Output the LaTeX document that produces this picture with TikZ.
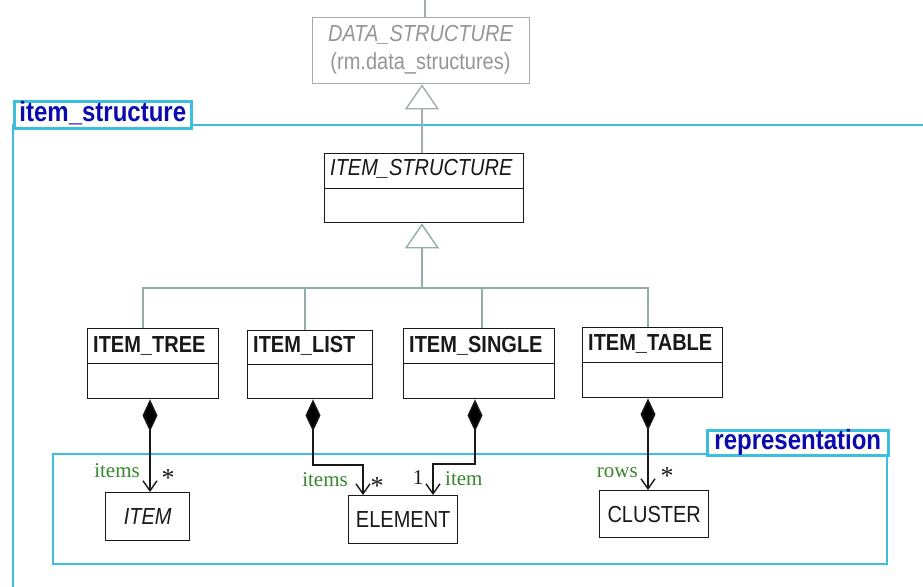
\documentclass[tikz,border=0pt]{standalone}
\usepackage{fontspec}
\setmainfont{Liberation Sans}
\newfontfamily\rolefont{Liberation Serif}
\usetikzlibrary{arrows.meta}
\definecolor{pkgcyan}{RGB}{60,190,225}
\definecolor{pkgblue}{RGB}{10,10,175}
\definecolor{inhgray}{RGB}{150,172,170}
\definecolor{ghost}{RGB}{165,172,172}
\definecolor{ghosttext}{RGB}{150,150,150}
\definecolor{rolegreen}{RGB}{55,135,45}
\definecolor{ink}{RGB}{25,25,25}
\newcommand\vstretch[1]{\scalebox{1}[1.16]{#1}}
\begin{document}
\begin{tikzpicture}[x=1pt,y=-1pt,
  cls/.style={draw=ink, line width=1.4pt, rectangle, inner sep=0pt, anchor=north west, fill=white},
  clsname/.style={anchor=base west, inner sep=0pt, text=ink, font=\fontsize{20}{24}\selectfont\bfseries},
  plain/.style={text=ink, font=\fontsize{20}{24}\selectfont},
  ghostbox/.style={draw=ghost, line width=1.4pt, rectangle, inner sep=0pt, anchor=north west},
  pkgline/.style={draw=pkgcyan, line width=2.6pt},
  pkgtab/.style={draw=pkgcyan, line width=2.6pt, fill=white, rectangle, inner sep=0pt, anchor=north west,
     text=pkgblue, font=\fontsize{24}{28}\selectfont\bfseries, text height=18pt, text depth=4pt},
  inhline/.style={draw=inhgray, line width=1.4pt},
  inharrow/.style={draw=inhgray, line width=1.4pt, -{Triangle[open, length=25pt, width=34pt, fill=white]}},
  comp/.style={draw=ink, line width=1.4pt, {Diamond[length=32pt, width=15pt, fill=black]}-{Straight Barb[length=10pt, width=14pt]}},
  role/.style={inner sep=0pt, text=rolegreen, font=\fontsize{21}{24}\selectfont\rolefont},
  mult/.style={inner sep=0pt, text=ink, font=\fontsize{21}{24}\selectfont\rolefont},
  star/.style={inner sep=0pt, text=ink, font=\fontsize{26}{28}\selectfont\rolefont},
]
\useasboundingbox (0,0) rectangle (923,586);
\clip (0,0) rectangle (923,586);
\fill[white] (0,0) rectangle (923,586);

% package item_structure
\draw[pkgline] (13,125) rectangle (945,610);
\node[pkgtab, minimum width=177, minimum height=27] (tabA) at (13,100) {\vstretch{item\_structure}};

% package representation
\draw[pkgline] (53,454) rectangle (887,564);
\node[pkgtab, minimum width=181, minimum height=25] (tabB) at (706,429) {\vstretch{representation}};

% DATA_STRUCTURE (external, ghosted)
\coordinate (topend) at (425,0);
\node[ghostbox, minimum width=217, minimum height=66] (data) at (312,17) {};
\draw[inhline, draw=ghost] (topend) -- (data.north -| topend);
\node[anchor=base, inner sep=0pt, text=ghosttext, font=\fontsize{20}{24}\selectfont\itshape] at (420.5,42) {\vstretch{DATA\_STRUCTURE}};
\node[anchor=base, inner sep=0pt, text=ghosttext, font=\fontsize{20}{24}\selectfont] at (420.5,70) {\vstretch{(rm.data\_structures)}};

% ITEM_STRUCTURE
\node[cls, minimum width=199, minimum height=69] (istruct) at (324,153) {};
\draw[draw=ink, line width=1.4pt] (istruct.west) -- (istruct.east);
\node[clsname, font=\fontsize{20}{24}\selectfont\itshape] at ([shift={(6,22)}]istruct.north west) {\vstretch{ITEM\_STRUCTURE}};
\draw[inharrow, draw=ghost] (istruct.north -| 422,0) -- (data.south -| 422,0);

% subclasses
\node[cls, minimum width=131, minimum height=70] (tree) at (87,328) {};
\node[cls, minimum width=125, minimum height=68] (list) at (247,330) {};
\node[cls, minimum width=151, minimum height=70] (single) at (403,328) {};
\node[cls, minimum width=140, minimum height=70] (table) at (582,327) {};
\foreach \n in {tree,list,single,table} {\draw[draw=ink, line width=1.4pt] (\n.west) -- (\n.east);}
\node[clsname] at ([shift={(6,24)}]tree.north west) {\vstretch{ITEM\_TREE}};
\node[clsname] at ([shift={(6,22)}]list.north west) {\vstretch{ITEM\_LIST}};
\node[clsname] at ([shift={(6,24)}]single.north west) {\vstretch{ITEM\_SINGLE}};
\node[clsname] at ([shift={(6,23)}]table.north west) {\vstretch{ITEM\_TABLE}};

% generalization tree
\coordinate (bar) at (422,288);
\draw[inharrow] (bar) -- (istruct.south -| bar);
\draw[inhline] (tree.north -| 143,0) -- (143,288) -- (648,288) -- (table.north -| 648,0);
\draw[inhline] (list.north -| 305,0) -- (305,288);
\draw[inhline] (single.north -| 482,0) -- (482,288);

% parts
\node[cls, minimum width=84, minimum height=48, plain, font=\fontsize{20}{24}\selectfont\itshape] (item) at (105,492) {\vstretch{ITEM}};
\node[cls, minimum width=109, minimum height=48, plain] (element) at (348,495) {\vstretch{ELEMENT}};
\node[cls, minimum width=109, minimum height=47, plain] (cluster) at (599,490) {\vstretch{CLUSTER}};

% compositions
\draw[comp] (tree.south -| 150,0) -- (item.north -| 150,0);
\draw[comp] (list.south -| 313,0) -- (313,465) -- (363,465) -- (element.north -| 363,0);
\draw[comp] (single.south -| 475,0) -- (475,464) -- (433,464) -- (element.north -| 433,0);
\draw[comp] (table.south -| 648,0) -- (cluster.north -| 648,0);

% role names and multiplicities
\node[role, anchor=base east] at (140,477) {items};
\node[star, anchor=base] at (168,486) {*};
\node[role, anchor=base east] at (348,486) {items};
\node[star, anchor=base] at (377,494) {*};
\node[mult, anchor=base] at (418,484) {1};
\node[role, anchor=base west] at (445,485) {item};
\node[role, anchor=base east] at (638,477) {rows};
\node[star, anchor=base] at (667,484) {*};
\end{tikzpicture}
\end{document}
